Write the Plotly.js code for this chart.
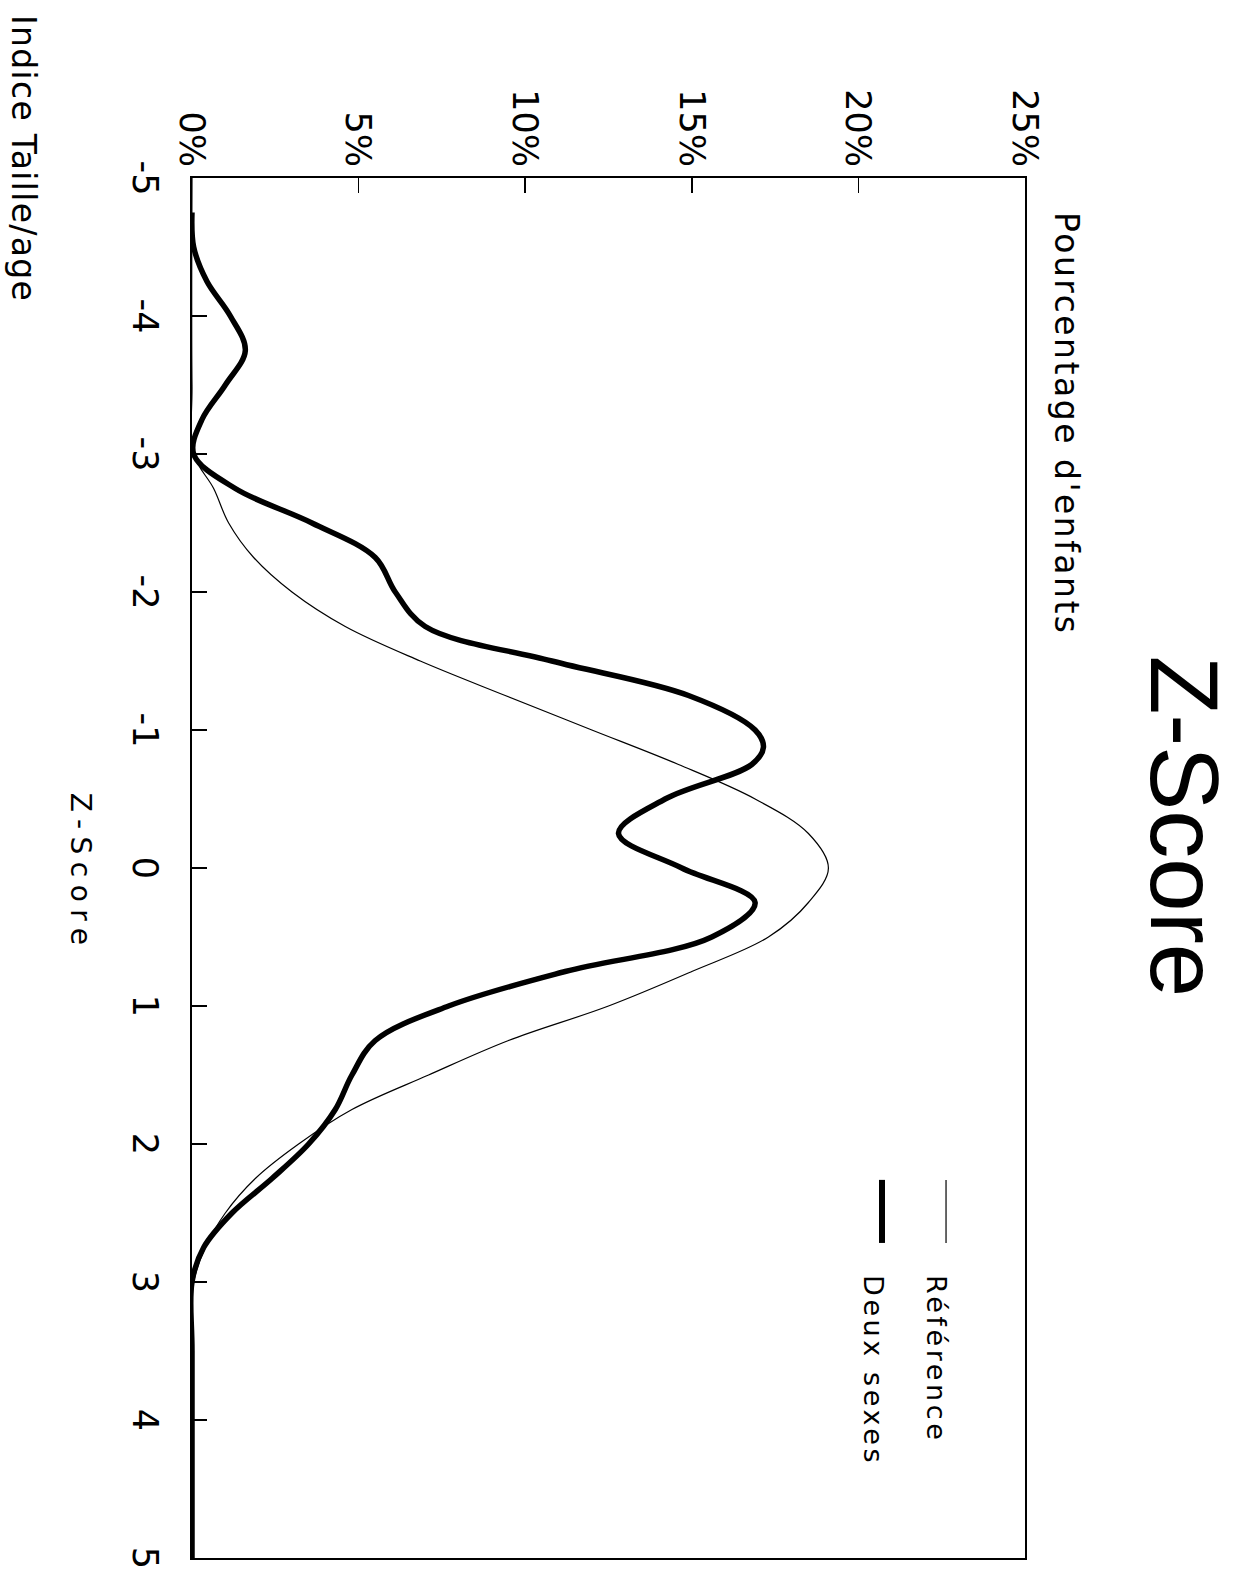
<!DOCTYPE html>
<html>
<head>
<meta charset="utf-8">
<script src="https://cdn.plot.ly/plotly-3.0.1.min.js"></script>
<style>
  html, body { margin: 0; padding: 0; background: #ffffff; overflow: hidden; }
  #wrap { position: absolute; left: 1250px; top: 0; width: 1571px; height: 1250px;
          transform-origin: 0 0; transform: rotate(90deg); }
  #chart { width: 1571px; height: 1250px; }
  g.annotation[data-index="0"] text { letter-spacing: 2.5px; }
  g.annotation[data-index="1"] text { letter-spacing: 7.5px; }
  g.annotation[data-index="2"] text { letter-spacing: 1.3px; }
  g.annotation[data-index="3"] text { letter-spacing: 3.6px; }
  g.annotation[data-index="4"] text { letter-spacing: 3.6px; }
</style>
</head>
<body>
<div id="wrap"><div id="chart"></div></div>
<script>
// Z-score positions and percentages
const zReference = [-5, -3.5, -3, -2.75, -2.5, -2.25, -2, -1.75, -1.5, -1.25, -1, -0.75, -0.5, -0.25, 0,
                    0.25, 0.5, 0.75, 1, 1.25, 1.5, 1.75, 2, 2.25, 2.5, 2.75, 3, 3.5, 5];
const pctReference = [0, 0, 0.05, 0.65, 1.1, 1.85, 3.0, 4.6, 6.85, 9.4, 12.0, 14.6, 16.9, 18.5, 19.1,
                      18.5, 17.3, 15.0, 12.5, 9.5, 7.1, 4.8, 3.2, 1.9, 1.0, 0.4, 0.05, 0, 0];

const zDeuxSexes = [-4.75, -4.5, -4.25, -4, -3.75, -3.5, -3.25, -3, -2.75, -2.5, -2.25, -2, -1.75, -1.5,
                    -1.25, -1, -0.875, -0.75, -0.5, -0.25, 0, 0.25, 0.5, 0.75, 1, 1.25, 1.5, 1.75, 2,
                    2.25, 2.5, 2.75, 3, 3.5, 5];
const pctDeuxSexes = [0, 0.05, 0.45, 1.15, 1.6, 1.0, 0.3, 0.05, 1.3, 3.6, 5.5, 6.1, 7.0, 10.8,
                      14.9, 16.9, 17.15, 16.8, 14.2, 12.8, 14.7, 16.9, 15.6, 11.2, 7.7, 5.5, 4.8, 4.3, 3.5,
                      2.4, 1.2, 0.35, 0, 0, 0];

const zTicks = [-5, -4, -3, -2, -1, 0, 1, 2, 3, 4, 5];
const zTickText = ['-5', '-4', '-3', '-2', '-1', '0', '1', '2', '3', '4', '5'];
const pctTicks = [0, 5, 10, 15, 20, 25];
const pctTickText = ['0%', '5%', '10%', '15%', '20%', '25%'];

const seriesNames = ['Référence', 'Deux sexes'];
const chartTitle = 'Z-Score';
const xTitle = 'Z-Score';
const yTitle = "Pourcentage d'enfants";
const footNote = 'Indice Taille/age';

const baseFont = 'DejaVu Sans, Verdana, sans-serif';

const traces = [
  { x: zReference, y: pctReference, name: seriesNames[0], type: 'scatter', mode: 'lines',
    line: { color: '#000000', width: 1.2, shape: 'spline', smoothing: 1 } },
  { x: zDeuxSexes, y: pctDeuxSexes, name: seriesNames[1], type: 'scatter', mode: 'lines',
    line: { color: '#000000', width: 5.5, shape: 'spline', smoothing: 1 } }
];

const axisCommon = {
  showgrid: false, zeroline: false, showline: true, linecolor: '#000000', linewidth: 2,
  mirror: true, ticks: 'inside', ticklen: 15, tickwidth: 1.5, tickcolor: '#000000',
  tickfont: { family: baseFont, size: 35, color: '#000000' }, tickmode: 'array'
};

const layout = {
  width: 1571, height: 1250,
  paper_bgcolor: '#ffffff', plot_bgcolor: '#ffffff',
  margin: { l: 178, r: 13, t: 225, b: 192 },
  showlegend: false,
  hovermode: false,
  title: { text: chartTitle, x: 0.526, xref: 'container', xanchor: 'center',
           y: 0.948, yref: 'container', yanchor: 'middle',
           font: { family: 'Liberation Sans, Arial, sans-serif', size: 96, color: '#000000' } },
  xaxis: Object.assign({}, axisCommon, { range: [-5, 5], tickvals: zTicks, ticktext: zTickText,
                                         ticklabelstandoff: 15 }),
  yaxis: Object.assign({}, axisCommon, { range: [0, 25], tickvals: pctTicks, ticktext: pctTickText,
                                         ticklabelstandoff: 2 }),
  annotations: [
    { text: yTitle, xref: 'paper', yref: 'paper', x: 0.0232, y: 1.0504, xanchor: 'left', yanchor: 'middle',
      align: 'left', showarrow: false, font: { family: baseFont, size: 33, color: '#000000' } },
    { text: xTitle, xref: 'paper', yref: 'paper', x: 0.503, y: -0.1333, xanchor: 'center', yanchor: 'middle',
      showarrow: false, font: { family: baseFont, size: 28, color: '#000000' } },
    { text: footNote, xref: 'paper', yref: 'paper', x: -0.1196, y: -0.2017, xanchor: 'left', yanchor: 'middle',
      align: 'left', showarrow: false, font: { family: baseFont, size: 33, color: '#000000' } },
    { text: seriesNames[0], xref: 'paper', yref: 'paper', x: 0.7935, y: 0.8932, xanchor: 'left', yanchor: 'middle',
      align: 'left', showarrow: false, font: { family: baseFont, size: 27, color: '#000000' } },
    { text: seriesNames[1], xref: 'paper', yref: 'paper', x: 0.7935, y: 0.8187, xanchor: 'left', yanchor: 'middle',
      align: 'left', showarrow: false, font: { family: baseFont, size: 27, color: '#000000' } }
  ],
  shapes: [
    { type: 'line', xref: 'paper', yref: 'paper', x0: 0.726, x1: 0.7717, y0: 0.9052, y1: 0.9052,
      line: { color: '#000000', width: 1.2 } },
    { type: 'line', xref: 'paper', yref: 'paper', x0: 0.726, x1: 0.7717, y0: 0.8283, y1: 0.8283,
      line: { color: '#000000', width: 6 } }
  ]
};

Plotly.newPlot('chart', traces, layout, { displayModeBar: false, staticPlot: true });
</script>
</body>
</html>
